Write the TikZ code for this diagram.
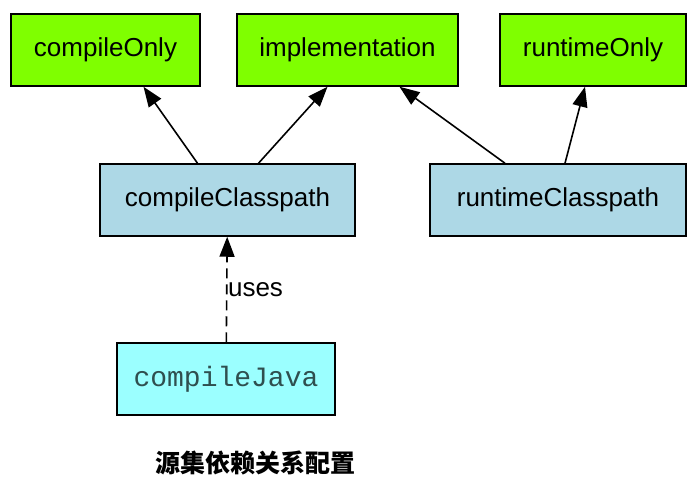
\documentclass[tikz,border=0pt]{standalone}
\usepackage{fontspec}
\setmainfont{Liberation Sans}
\newfontfamily\codefont{Liberation Mono}
\newfontfamily\cjk{Noto Sans CJK SC}
\usetikzlibrary{arrows.meta}
\definecolor{cfggreen}{HTML}{7FFF00}
\definecolor{cpblue}{HTML}{ADD8E6}
\definecolor{taskcyan}{HTML}{9BFFFF}
\definecolor{tasktext}{HTML}{2F4F4F}

\begin{document}
\begin{tikzpicture}[x=1pt,y=-1pt,
	box/.style={draw=black,line width=1.5pt,inner sep=0pt,minimum height=72pt,
	font=\fontsize{26}{30}\selectfont},
	conf/.style={box,fill=cfggreen},
	cpath/.style={box,fill=cpblue},
	task/.style={box,fill=taskcyan,text=tasktext,font=\codefont\fontsize{28}{32}\selectfont},
	dep/.style={line width=1.6pt,-{Triangle[length=20pt,width=15pt]}}]
\useasboundingbox (0,0) rectangle (697,480);
\node[conf,minimum width=189pt] (co) at (105.5,50) {compileOnly};
\node[conf,minimum width=221pt] (impl) at (347.5,50) {implementation};
\node[conf,minimum width=186pt] (ro) at (593,50) {runtimeOnly};
\node[cpath,minimum width=255pt] (cc) at (227.5,200) {compileClasspath};
\node[cpath,minimum width=256pt] (rc) at (558,200) {runtimeClasspath};
\node[task,minimum width=218pt] (cj) at (226,379) {compileJava};
\draw[dep] ([xshift=-30pt]cc.north) -- ([xshift=38pt]co.south);
\draw[dep] ([xshift=31pt]cc.north) -- ([xshift=-20pt]impl.south);
\draw[dep] ([xshift=-53pt]rc.north) -- ([xshift=52pt]impl.south);
\draw[dep] ([xshift=7pt]rc.north) -- ([xshift=-8pt]ro.south);
\draw[dep,dash pattern=on 10pt off 6pt] (cj) -- (cc)
	node[midway,right,inner sep=0.5pt,font=\fontsize{26}{30}\selectfont] (uses) {uses};
\node[font=\cjk\bfseries\fontsize{25}{28}\selectfont] (title) at (255,463) {源集依赖关系配置};
\end{tikzpicture}
\end{document}
